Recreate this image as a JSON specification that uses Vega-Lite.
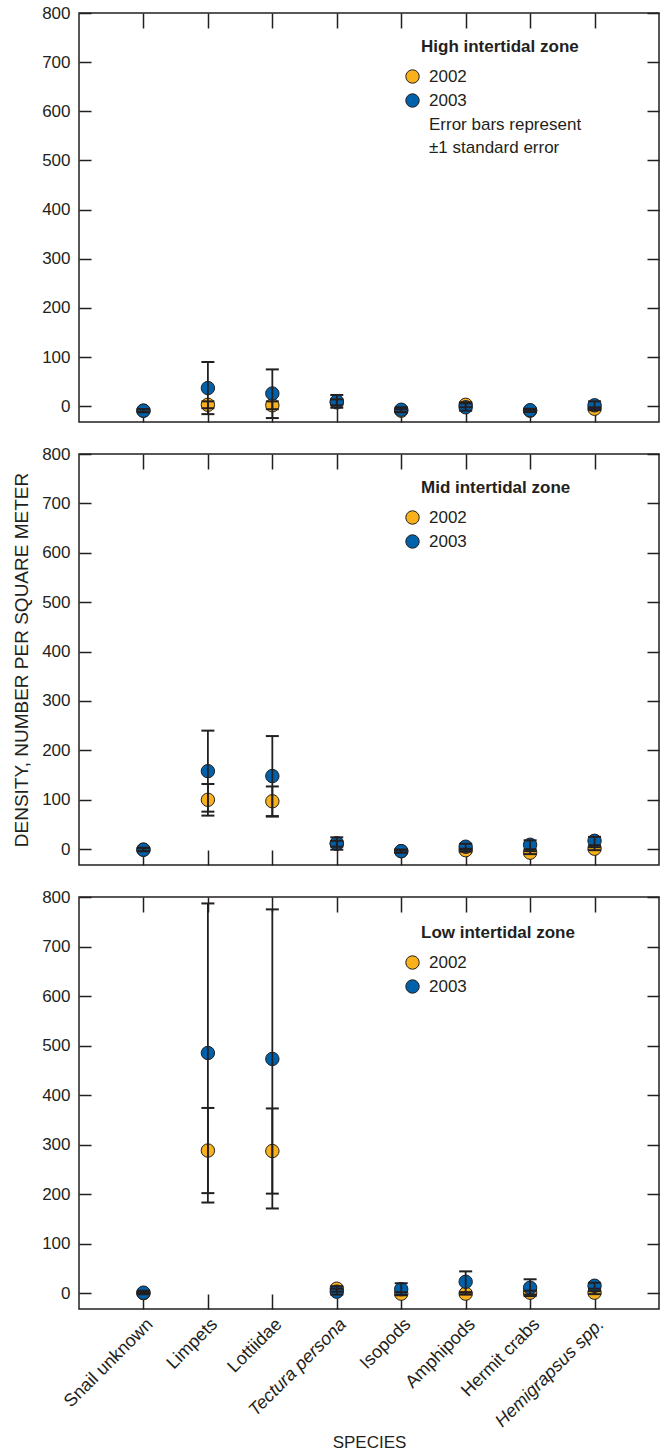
{
  "$schema": "https://vega.github.io/schema/vega-lite/v6.json",
  "padding": {"top": 3, "left": 11, "right": 5, "bottom": 5},
  "background": "white",
  "config": {
    "font": "Liberation Sans",
    "view": {"stroke": "#231f20", "strokeWidth": 1.5},
    "axis": {"labelFont": "Liberation Sans", "labelFontSize": 17, "labelColor": "#231f20", "titleFont": "Liberation Sans", "titleFontSize": 17, "titleFontWeight": "normal", "titleColor": "#231f20", "tickColor": "#231f20", "tickWidth": 1.5, "grid": false, "domain": false},
    "legend": {"labelFont": "Liberation Sans", "titleFont": "Liberation Sans", "labelFontSize": 17, "titleFontSize": 17, "labelColor": "#231f20", "titleColor": "#231f20", "titleFontWeight": "bold"}
  },
  "datasets": {
    "d": [
      {"zone": "High", "species": "Snail unknown", "year": "2002", "density": -9, "lo": -12, "hi": -6},
      {"zone": "High", "species": "Limpets", "year": "2002", "density": 3, "lo": -4, "hi": 10},
      {"zone": "High", "species": "Lottiidae", "year": "2002", "density": 2, "lo": -6, "hi": 10},
      {"zone": "High", "species": "Tectura persona", "year": "2002", "density": 8, "lo": 2, "hi": 14},
      {"zone": "High", "species": "Isopods", "year": "2002", "density": -9, "lo": -12, "hi": -6},
      {"zone": "High", "species": "Amphipods", "year": "2002", "density": 3, "lo": -2, "hi": 8},
      {"zone": "High", "species": "Hermit crabs", "year": "2002", "density": -9, "lo": -11, "hi": -7},
      {"zone": "High", "species": "Hemigrapsus spp.", "year": "2002", "density": -5, "lo": -8, "hi": -2},
      {"zone": "High", "species": "Snail unknown", "year": "2003", "density": -9, "lo": -12, "hi": -6},
      {"zone": "High", "species": "Limpets", "year": "2003", "density": 37, "lo": -16, "hi": 90},
      {"zone": "High", "species": "Lottiidae", "year": "2003", "density": 26, "lo": -24, "hi": 75},
      {"zone": "High", "species": "Tectura persona", "year": "2003", "density": 10, "lo": -3, "hi": 23},
      {"zone": "High", "species": "Isopods", "year": "2003", "density": -7, "lo": -12, "hi": -2},
      {"zone": "High", "species": "Amphipods", "year": "2003", "density": -2, "lo": -9, "hi": 6},
      {"zone": "High", "species": "Hermit crabs", "year": "2003", "density": -8, "lo": -11, "hi": -5},
      {"zone": "High", "species": "Hemigrapsus spp.", "year": "2003", "density": 2, "lo": -6, "hi": 10},
      {"zone": "Mid", "species": "Snail unknown", "year": "2002", "density": -1, "lo": -4, "hi": 2},
      {"zone": "Mid", "species": "Limpets", "year": "2002", "density": 100, "lo": 68, "hi": 132},
      {"zone": "Mid", "species": "Lottiidae", "year": "2002", "density": 97, "lo": 67, "hi": 127},
      {"zone": "Mid", "species": "Tectura persona", "year": "2002", "density": 11, "lo": 5, "hi": 17},
      {"zone": "Mid", "species": "Isopods", "year": "2002", "density": -4, "lo": -7, "hi": -1},
      {"zone": "Mid", "species": "Amphipods", "year": "2002", "density": -2, "lo": -5, "hi": 1},
      {"zone": "Mid", "species": "Hermit crabs", "year": "2002", "density": -7, "lo": -10, "hi": -4},
      {"zone": "Mid", "species": "Hemigrapsus spp.", "year": "2002", "density": 1, "lo": -2, "hi": 4},
      {"zone": "Mid", "species": "Snail unknown", "year": "2003", "density": -1, "lo": -4, "hi": 3},
      {"zone": "Mid", "species": "Limpets", "year": "2003", "density": 158, "lo": 76, "hi": 240},
      {"zone": "Mid", "species": "Lottiidae", "year": "2003", "density": 148, "lo": 66, "hi": 229},
      {"zone": "Mid", "species": "Tectura persona", "year": "2003", "density": 12, "lo": -1, "hi": 24},
      {"zone": "Mid", "species": "Isopods", "year": "2003", "density": -4, "lo": -7, "hi": -1},
      {"zone": "Mid", "species": "Amphipods", "year": "2003", "density": 5, "lo": -1, "hi": 11},
      {"zone": "Mid", "species": "Hermit crabs", "year": "2003", "density": 9, "lo": 0, "hi": 18},
      {"zone": "Mid", "species": "Hemigrapsus spp.", "year": "2003", "density": 17, "lo": 8, "hi": 25},
      {"zone": "Low", "species": "Snail unknown", "year": "2002", "density": 0, "lo": -2, "hi": 2},
      {"zone": "Low", "species": "Limpets", "year": "2002", "density": 288, "lo": 202, "hi": 374},
      {"zone": "Low", "species": "Lottiidae", "year": "2002", "density": 287, "lo": 201, "hi": 373},
      {"zone": "Low", "species": "Tectura persona", "year": "2002", "density": 9, "lo": 3, "hi": 14},
      {"zone": "Low", "species": "Isopods", "year": "2002", "density": -1, "lo": -4, "hi": 2},
      {"zone": "Low", "species": "Amphipods", "year": "2002", "density": -1, "lo": -3, "hi": 1},
      {"zone": "Low", "species": "Hermit crabs", "year": "2002", "density": 1, "lo": -3, "hi": 5},
      {"zone": "Low", "species": "Hemigrapsus spp.", "year": "2002", "density": 1, "lo": -2, "hi": 4},
      {"zone": "Low", "species": "Snail unknown", "year": "2003", "density": 1, "lo": -2, "hi": 5},
      {"zone": "Low", "species": "Limpets", "year": "2003", "density": 485, "lo": 183, "hi": 787},
      {"zone": "Low", "species": "Lottiidae", "year": "2003", "density": 473, "lo": 171, "hi": 775},
      {"zone": "Low", "species": "Tectura persona", "year": "2003", "density": 3, "lo": -3, "hi": 9},
      {"zone": "Low", "species": "Isopods", "year": "2003", "density": 8, "lo": -4, "hi": 20},
      {"zone": "Low", "species": "Amphipods", "year": "2003", "density": 23, "lo": 2, "hi": 44},
      {"zone": "Low", "species": "Hermit crabs", "year": "2003", "density": 11, "lo": -6, "hi": 28},
      {"zone": "Low", "species": "Hemigrapsus spp.", "year": "2003", "density": 15, "lo": 9, "hi": 21}
    ]
  },
  "data": {"name": "d"},
  "spacing": 20,
  "resolve": {"scale": {"color": "independent"}, "legend": {"color": "independent"}},
  "vconcat": [
    {
      "width": 580, "height": 409,
      "transform": [{"filter": "datum.zone === 'High'"}],
      "layer": [
        {
          "mark": {"type": "circle", "size": 180, "opacity": 1, "stroke": "#231f20", "strokeWidth": 1},
          "encoding": {
            "x": {"field": "species", "type": "nominal", "scale": {"type": "point", "padding": 1, "domain": ["Snail unknown", "Limpets", "Lottiidae", "Tectura persona", "Isopods", "Amphipods", "Hermit crabs", "Hemigrapsus spp."]}, "axis": {"orient": "bottom", "labels": false, "title": null, "tickSize": -15}},
            "y": {"field": "density", "type": "quantitative", "scale": {"domain": [-32, 800], "nice": false, "zero": false}, "axis": {"orient": "left", "values": [0, 100, 200, 300, 400, 500, 600, 700, 800], "tickSize": -12, "labelPadding": 21, "title": null}},
            "color": {"field": "year", "type": "nominal", "scale": {"domain": ["2002", "2003", "Error bars represent", "±1 standard error"], "range": ["#f9b11b", "#0061ab", "transparent", "transparent"]},
              "legend": {"orient": "none", "legendX": 325, "legendY": 26, "title": "High intertidal zone", "padding": 0, "titlePadding": 12, "symbolType": "circle", "symbolSize": 180, "symbolStrokeColor": "#231f20", "symbolStrokeWidth": 1, "symbolOpacity": 1, "rowPadding": 5, "labelOffset": 8,
                "encode": {"title": {"update": {"dx": {"value": 17}}}, "symbols": {"update": {"strokeOpacity": {"signal": "datum.value == '2002' || datum.value == '2003' ? 1 : 0"}}}}}}
          }
        },
        {
          "mark": {"type": "rule", "color": "#231f20", "strokeWidth": 1.8},
          "encoding": {
            "x": {"field": "species", "type": "nominal", "scale": {"type": "point", "padding": 1, "domain": ["Snail unknown", "Limpets", "Lottiidae", "Tectura persona", "Isopods", "Amphipods", "Hermit crabs", "Hemigrapsus spp."]}, "axis": {"orient": "top", "labels": false, "title": null, "tickSize": -15}},
            "y": {"field": "lo", "type": "quantitative", "scale": {"domain": [-32, 800], "nice": false, "zero": false}, "axis": {"orient": "right", "labels": false, "values": [0, 100, 200, 300, 400, 500, 600, 700, 800], "tickSize": -12, "title": null}},
            "y2": {"field": "hi"}
          }
        },
        {
          "mark": {"type": "tick", "size": 13, "thickness": 2, "color": "#231f20", "opacity": 1},
          "encoding": {
            "x": {"field": "species", "type": "nominal", "axis": null},
            "y": {"field": "lo", "type": "quantitative", "axis": null}
          }
        },
        {
          "mark": {"type": "tick", "size": 13, "thickness": 2, "color": "#231f20", "opacity": 1},
          "encoding": {
            "x": {"field": "species", "type": "nominal", "axis": null},
            "y": {"field": "hi", "type": "quantitative", "axis": null}
          }
        }
      ],
      "resolve": {"axis": {"x": "independent", "y": "independent"}}
    },
    {
      "width": 580, "height": 411,
      "transform": [{"filter": "datum.zone === 'Mid'"}],
      "layer": [
        {
          "mark": {"type": "circle", "size": 180, "opacity": 1, "stroke": "#231f20", "strokeWidth": 1},
          "encoding": {
            "x": {"field": "species", "type": "nominal", "scale": {"type": "point", "padding": 1, "domain": ["Snail unknown", "Limpets", "Lottiidae", "Tectura persona", "Isopods", "Amphipods", "Hermit crabs", "Hemigrapsus spp."]}, "axis": {"orient": "bottom", "labels": false, "title": null, "tickSize": -15}},
            "y": {"field": "density", "type": "quantitative", "scale": {"domain": [-32, 800], "nice": false, "zero": false}, "axis": {"orient": "left", "values": [0, 100, 200, 300, 400, 500, 600, 700, 800], "tickSize": -12, "labelPadding": 21, "title": "DENSITY, NUMBER PER SQUARE METER", "titleFontSize": 19, "titlePadding": 10}},
            "color": {"field": "year", "type": "nominal", "scale": {"domain": ["2002", "2003"], "range": ["#f9b11b", "#0061ab"]},
              "legend": {"orient": "none", "legendX": 325, "legendY": 26, "title": "Mid intertidal zone", "padding": 0, "titlePadding": 12, "symbolType": "circle", "symbolSize": 180, "symbolStrokeColor": "#231f20", "symbolStrokeWidth": 1, "symbolOpacity": 1, "rowPadding": 5, "labelOffset": 8,
                "encode": {"title": {"update": {"dx": {"value": 17}}}}}}
          }
        },
        {
          "mark": {"type": "rule", "color": "#231f20", "strokeWidth": 1.8},
          "encoding": {
            "x": {"field": "species", "type": "nominal", "scale": {"type": "point", "padding": 1, "domain": ["Snail unknown", "Limpets", "Lottiidae", "Tectura persona", "Isopods", "Amphipods", "Hermit crabs", "Hemigrapsus spp."]}, "axis": {"orient": "top", "labels": false, "title": null, "tickSize": -15}},
            "y": {"field": "lo", "type": "quantitative", "scale": {"domain": [-32, 800], "nice": false, "zero": false}, "axis": {"orient": "right", "labels": false, "values": [0, 100, 200, 300, 400, 500, 600, 700, 800], "tickSize": -12, "title": null}},
            "y2": {"field": "hi"}
          }
        },
        {
          "mark": {"type": "tick", "size": 13, "thickness": 2, "color": "#231f20", "opacity": 1},
          "encoding": {
            "x": {"field": "species", "type": "nominal", "axis": null},
            "y": {"field": "lo", "type": "quantitative", "axis": null}
          }
        },
        {
          "mark": {"type": "tick", "size": 13, "thickness": 2, "color": "#231f20", "opacity": 1},
          "encoding": {
            "x": {"field": "species", "type": "nominal", "axis": null},
            "y": {"field": "hi", "type": "quantitative", "axis": null}
          }
        }
      ],
      "resolve": {"axis": {"x": "independent", "y": "independent"}}
    },
    {
      "width": 580, "height": 412,
      "transform": [{"filter": "datum.zone === 'Low'"}],
      "layer": [
        {
          "mark": {"type": "circle", "size": 180, "opacity": 1, "stroke": "#231f20", "strokeWidth": 1},
          "encoding": {
            "x": {"field": "species", "type": "nominal", "scale": {"type": "point", "padding": 1, "domain": ["Snail unknown", "Limpets", "Lottiidae", "Tectura persona", "Isopods", "Amphipods", "Hermit crabs", "Hemigrapsus spp."]}, "axis": {"orient": "bottom", "title": "SPECIES", "titlePadding": 4, "tickSize": -15, "labelAngle": -45, "labelPadding": 21, "labelFontSize": 18, "labelFontStyle": {"condition": {"test": "datum.value == 'Tectura persona' || datum.value == 'Hemigrapsus spp.'", "value": "italic"}, "value": "normal"}}},
            "y": {"field": "density", "type": "quantitative", "scale": {"domain": [-32, 800], "nice": false, "zero": false}, "axis": {"orient": "left", "values": [0, 100, 200, 300, 400, 500, 600, 700, 800], "tickSize": -12, "labelPadding": 21, "title": null}},
            "color": {"field": "year", "type": "nominal", "scale": {"domain": ["2002", "2003"], "range": ["#f9b11b", "#0061ab"]},
              "legend": {"orient": "none", "legendX": 325, "legendY": 28, "title": "Low intertidal zone", "padding": 0, "titlePadding": 12, "symbolType": "circle", "symbolSize": 180, "symbolStrokeColor": "#231f20", "symbolStrokeWidth": 1, "symbolOpacity": 1, "rowPadding": 5, "labelOffset": 8,
                "encode": {"title": {"update": {"dx": {"value": 17}}}}}}
          }
        },
        {
          "mark": {"type": "rule", "color": "#231f20", "strokeWidth": 1.8},
          "encoding": {
            "x": {"field": "species", "type": "nominal", "scale": {"type": "point", "padding": 1, "domain": ["Snail unknown", "Limpets", "Lottiidae", "Tectura persona", "Isopods", "Amphipods", "Hermit crabs", "Hemigrapsus spp."]}, "axis": {"orient": "top", "labels": false, "title": null, "tickSize": -15}},
            "y": {"field": "lo", "type": "quantitative", "scale": {"domain": [-32, 800], "nice": false, "zero": false}, "axis": {"orient": "right", "labels": false, "values": [0, 100, 200, 300, 400, 500, 600, 700, 800], "tickSize": -12, "title": null}},
            "y2": {"field": "hi"}
          }
        },
        {
          "mark": {"type": "tick", "size": 13, "thickness": 2, "color": "#231f20", "opacity": 1},
          "encoding": {
            "x": {"field": "species", "type": "nominal", "axis": null},
            "y": {"field": "lo", "type": "quantitative", "axis": null}
          }
        },
        {
          "mark": {"type": "tick", "size": 13, "thickness": 2, "color": "#231f20", "opacity": 1},
          "encoding": {
            "x": {"field": "species", "type": "nominal", "axis": null},
            "y": {"field": "hi", "type": "quantitative", "axis": null}
          }
        }
      ],
      "resolve": {"axis": {"x": "independent", "y": "independent"}}
    }
  ]
}
